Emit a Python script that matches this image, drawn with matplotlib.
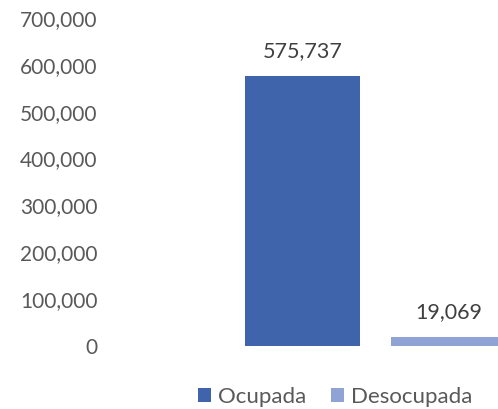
import matplotlib
matplotlib.use("Agg")
import matplotlib.pyplot as plt
from matplotlib.ticker import FuncFormatter

series = ["Ocupada", "Desocupada"]
values = [575737, 19069]
colors = ["#3F64AB", "#8FA3D4"]
yticks = [0, 100000, 200000, 300000, 400000, 500000, 600000, 700000]

plt.rcParams['font.family'] = ['Lato', 'DejaVu Sans']
fig = plt.figure(figsize=(4.98, 4.09), dpi=100)
ax = fig.add_axes([110/498, (409-346)/409, 1 - 110/498, (346-18)/409])

positions = [0, 1]
width = 0.787
handles = []
for pos, s, v, c in zip(positions, series, values, colors):
    b = ax.bar(pos, v, width=width, color=c, label=s)
    handles.append(b)
    ax.annotate(f"{v:,}", (pos, v), xytext=(0, 11), textcoords="offset points",
                ha="center", va="bottom", fontsize=15.5, color="#404040")

ax.set_xlim(-1.32, 1.339)
ax.set_ylim(0, 700000)
ax.set_yticks(yticks)
ax.yaxis.set_major_formatter(FuncFormatter(lambda v, p: f"{int(v):,}"))
ax.tick_params(axis="y", length=0, pad=9, labelsize=15, labelcolor="#595959")
ax.set_xticks([])
for sp in ax.spines.values():
    sp.set_visible(False)

fig.legend(handles=handles, labels=series, loc="center",
           bbox_to_anchor=(335/498, 1 - 397/409), ncol=2, frameon=False,
           fontsize=16, labelcolor="#595959", handlelength=0.6, handleheight=0.6,
           handletextpad=0.3, columnspacing=1.1)

fig.savefig("out.png", dpi=100)
